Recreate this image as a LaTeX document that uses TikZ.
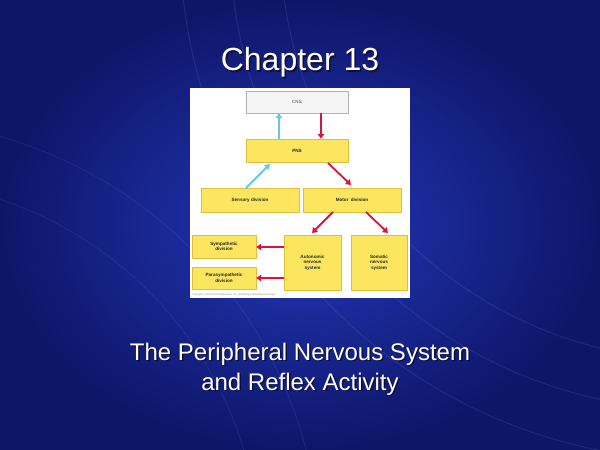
\documentclass[tikz,border=0pt]{standalone}
\usepackage{fontspec}
\setmainfont{Liberation Sans}
\definecolor{bgc}{RGB}{35,55,185}
\definecolor{bge}{RGB}{14,22,105}
\definecolor{boxy}{RGB}{252,230,95}
\definecolor{boxe}{RGB}{225,190,60}
\definecolor{arr}{RGB}{220,20,60}
\definecolor{cy}{RGB}{100,200,230}
\usetikzlibrary{arrows.meta}
\tikzset{
 ybox/.style={draw=boxe,fill=boxy,line width=0.4pt,inner sep=0pt,font=\fontsize{4.6}{5.4}\selectfont\bfseries,align=center,text=black!85},
 ra/.style={draw=arr,line width=1.8pt,-{Triangle[length=5pt,width=6.5pt]}},
 ca/.style={draw=cy,line width=1.8pt,-{Triangle[length=5pt,width=6.5pt]}},
 ttl/.style={text=white,font=\fontsize{32}{36}\selectfont},
 sub/.style={text=white,font=\fontsize{24}{30}\selectfont,align=center},
}
\begin{document}
\begin{tikzpicture}[x=1pt,y=-1pt]
\useasboundingbox (0,0) rectangle (600,450);
\shade[inner color=bgc,outer color=bge] (0,0) rectangle (600,450);
\foreach \r in {420,470,520}{\draw[white,opacity=0.08,line width=1pt] (700,-60) circle (\r);}
\foreach \r in {380,440}{\draw[white,opacity=0.06,line width=1pt] (-120,560) circle (\r);}
\node[ttl,text=black,opacity=0.5] (tsh) at (301.5,64) {Chapter 13};
\node[ttl] (title) at (300,62) {Chapter 13};
\node[sub,text=black,opacity=0.5] (ssh) at (301.5,370.5) {The Peripheral Nervous System\\and Reflex Activity};
\node[sub] (subt) at (300,369) {The Peripheral Nervous System\\and Reflex Activity};
\fill[white] (190,88) rectangle (410,298);
\node[draw=gray!60,fill=gray!8,inner sep=0pt,minimum width=102pt,minimum height=22pt,font=\fontsize{4.6}{5.4}\selectfont\bfseries,text=gray] (cns) at (297,102) {CNS};
\node[ybox,minimum width=102pt,minimum height=23pt] (pns) at (297,150.5) {PNS};
\node[ybox,minimum width=98pt,minimum height=24pt] (sen) at (250,200) {Sensory division};
\node[ybox,minimum width=98pt,minimum height=24pt] (mot) at (352,200) {Motor\enspace division};
\node[ybox,minimum width=64pt,minimum height=23pt] (sym) at (224,246.5) {Sympathetic\\division};
\node[ybox,minimum width=64pt,minimum height=22pt] (par) at (224,278) {Parasympathetic\\division};
\node[ybox,minimum width=57pt,minimum height=55pt] (aut) at (312.5,262.5) {Autonomic\\nervous\\system};
\node[ybox,minimum width=56pt,minimum height=55pt] (som) at (379,262.5) {Somatic\\nervous\\system};
\node[anchor=west,inner sep=0pt,font=\fontsize{2.4}{3}\selectfont,text=gray] (copy) at (192,294.5) {Copyright © 2004 Pearson Education, Inc., publishing as Benjamin Cummings};
\draw[ca] (pns.north -| 279,0) -- (cns.south -| 279,0);
\draw[ra] (cns.south -| 321,0) -- (pns.north -| 321,0);
\draw[ca] (246,188) -- (270,164);
\draw[ra] (328,163) -- (351,185);
\draw[ra] (333,212) -- (312,233);
\draw[ra] (366,212) -- (388,233);
\draw[ra] (aut.west |- 0,247) -- (sym.east |- 0,247);
\draw[ra] (aut.west |- 0,278) -- (par.east |- 0,278);
\end{tikzpicture}
\end{document}
